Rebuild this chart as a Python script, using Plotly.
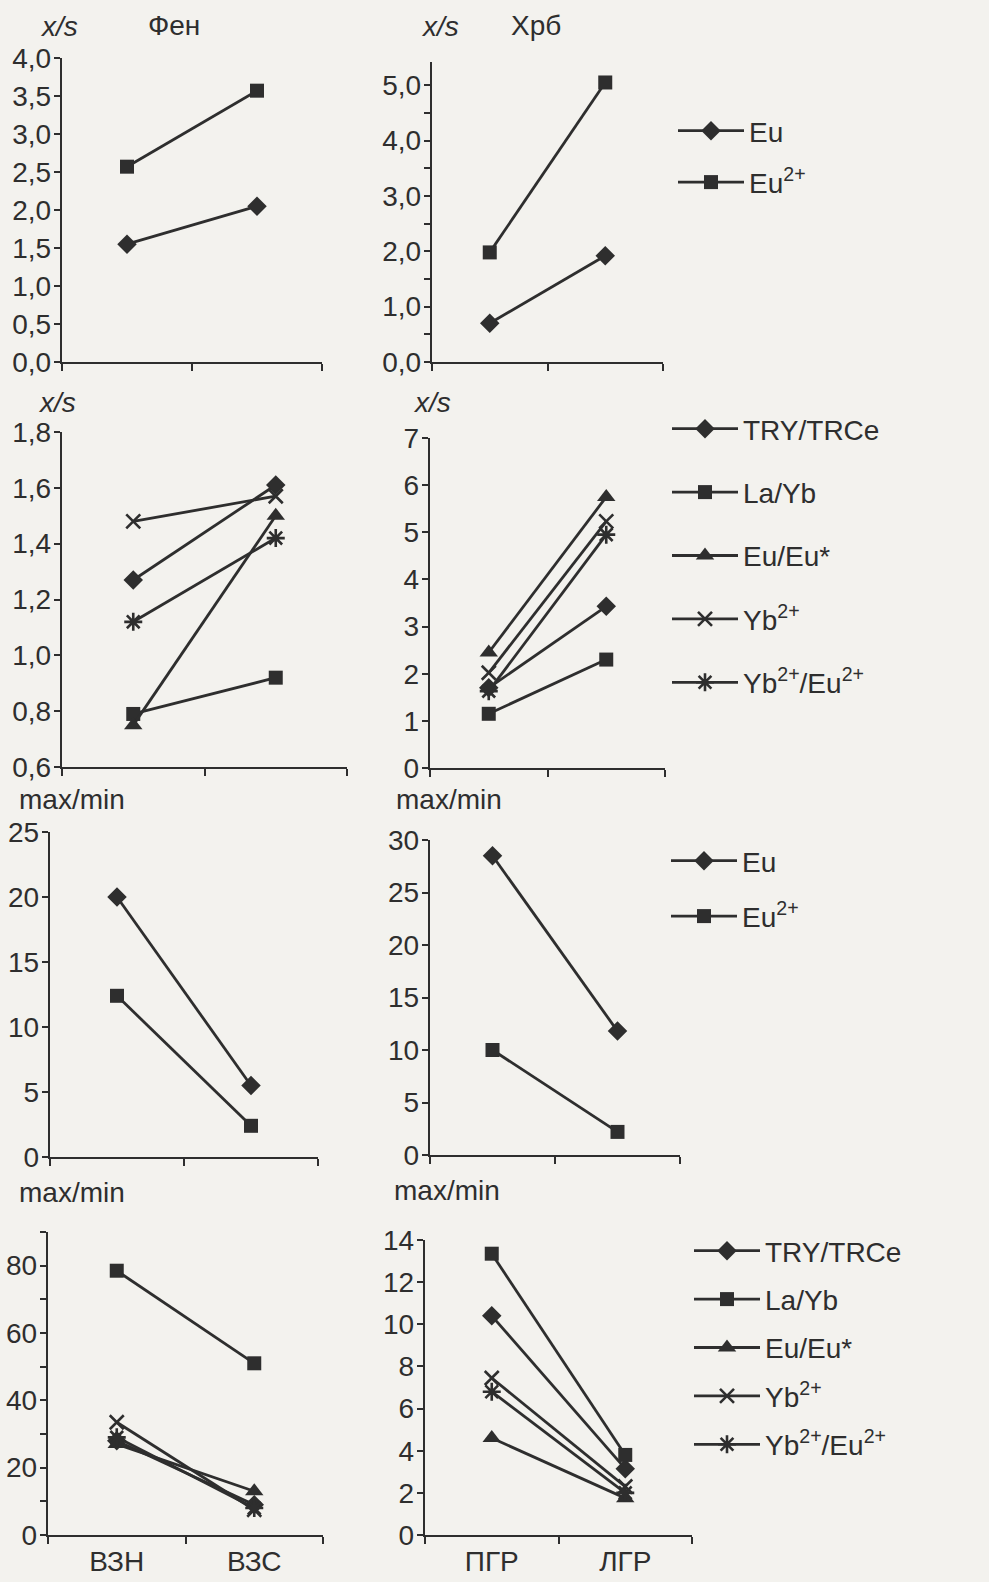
import plotly.graph_objects as go

W, H = 989, 1582
INK = "#2e2e2e"
BG = "#f3f2ee"
FONT = "Liberation Sans, Arial, sans-serif"

# ---------------- data ----------------
cats_left = ["ВЗН", "ВЗС"]
cats_right = ["ПГР", "ЛГР"]

names_eu = ["Eu", "Eu<sup>2+</sup>"]
names_ratio = ["TRY/TRCe", "La/Yb", "Eu/Eu*", "Yb<sup>2+</sup>", "Yb<sup>2+</sup>/Eu<sup>2+</sup>"]

# x/s, Фен
fen_xs_eu = [1.55, 2.05]
fen_xs_eu2 = [2.57, 3.57]
# x/s, Хрб
hrb_xs_eu = [0.70, 1.92]
hrb_xs_eu2 = [1.98, 5.05]

# x/s ratios, left column
fen_xs_try = [1.27, 1.61]
fen_xs_layb = [0.79, 0.92]
fen_xs_eueu = [0.75, 1.50]
fen_xs_yb2 = [1.48, 1.57]
fen_xs_yb2eu2 = [1.12, 1.42]
# x/s ratios, right column
hrb_xs_try = [1.70, 3.43]
hrb_xs_layb = [1.15, 2.30]
hrb_xs_eueu = [2.45, 5.75]
hrb_xs_yb2 = [2.02, 5.23]
hrb_xs_yb2eu2 = [1.63, 4.95]

# max/min Eu
fen_mm_eu = [20.0, 5.5]
fen_mm_eu2 = [12.4, 2.4]
hrb_mm_eu = [28.5, 11.8]
hrb_mm_eu2 = [10.0, 2.2]

# max/min ratios
fen_mm_try = [28.0, 9.0]
fen_mm_layb = [78.5, 51.0]
fen_mm_eueu = [27.0, 13.0]
fen_mm_yb2 = [33.5, 7.5]
fen_mm_yb2eu2 = [29.0, 8.0]

hrb_mm_try = [10.4, 3.15]
hrb_mm_layb = [13.35, 3.8]
hrb_mm_eueu = [4.6, 1.75]
hrb_mm_yb2 = [7.45, 2.3]
hrb_mm_yb2eu2 = [6.8, 2.0]

# ---------------- styling ----------------
SYM = ["diamond", "square", "triangle-up", "x-thin-open", "asterisk-open"]
MSIZE = [15, 14, 16, 14, 15]

fig = go.Figure()

# panel pixel boxes: (x0, x1, ytop, ybottom)
boxes = {
    1: (62, 322, 58, 362),
    2: (432, 663, 62, 362),
    3: (62, 347, 432, 767),
    4: (430, 665, 438, 768),
    5: (50, 318, 832, 1157),
    6: (430, 680, 840, 1155),
    7: (48, 323, 1232, 1535),
    8: (425, 692, 1240, 1535),
}

yspec = {
    1: dict(range=[0, 4.0], dtick=0.5, tickformat=".1f"),
    2: dict(range=[0, 5.42], dtick=1, tickformat=".1f", minor=0.5),
    3: dict(range=[0.6, 1.8], dtick=0.2, tickformat=".1f"),
    4: dict(range=[0, 7], dtick=1, tickformat="d"),
    5: dict(range=[0, 25], dtick=5, tickformat="d"),
    6: dict(range=[0, 30], dtick=5, tickformat="d"),
    7: dict(range=[0, 90], dtick=20, tickformat="d", minor=10),
    8: dict(range=[0, 14], dtick=2, tickformat="d"),
}

panel_series = {
    1: (cats_left, names_eu, [fen_xs_eu, fen_xs_eu2], None),
    2: (cats_right, names_eu, [hrb_xs_eu, hrb_xs_eu2], "legend"),
    3: (cats_left, names_ratio, [fen_xs_try, fen_xs_layb, fen_xs_eueu, fen_xs_yb2, fen_xs_yb2eu2], None),
    4: (cats_right, names_ratio, [hrb_xs_try, hrb_xs_layb, hrb_xs_eueu, hrb_xs_yb2, hrb_xs_yb2eu2], "legend2"),
    5: (cats_left, names_eu, [fen_mm_eu, fen_mm_eu2], None),
    6: (cats_right, names_eu, [hrb_mm_eu, hrb_mm_eu2], "legend3"),
    7: (cats_left, names_ratio, [fen_mm_try, fen_mm_layb, fen_mm_eueu, fen_mm_yb2, fen_mm_yb2eu2], None),
    8: (cats_right, names_ratio, [hrb_mm_try, hrb_mm_layb, hrb_mm_eueu, hrb_mm_yb2, hrb_mm_yb2eu2], "legend4"),
}

layout_axes = {}
for n, (x0, x1, yt, yb) in boxes.items():
    sfx = "" if n == 1 else str(n)
    cats, names, series, leg = panel_series[n]
    for i, (nm, vals) in enumerate(zip(names, series)):
        sym = SYM[i]
        open_sym = sym.endswith("open")
        fig.add_trace(go.Scatter(
            x=cats, y=vals, name=nm, mode="lines+markers",
            xaxis="x" + sfx, yaxis="y" + sfx,
            line=dict(color=INK, width=2.8),
            marker=dict(symbol=sym, size=MSIZE[i], color=INK,
                        line=dict(color=INK, width=2.6 if open_sym else 0)),
            showlegend=leg is not None,
            legend=leg if leg else "legend",
            legendgroup=f"{n}_{i}",
            cliponaxis=False,
        ))
    bottom = n in (7, 8)
    layout_axes["xaxis" + sfx] = dict(
        domain=[x0 / W, x1 / W], anchor="y" + sfx,
        type="category", categoryorder="array", categoryarray=cats,
        range=[-0.5, 1.5], tickson="boundaries",
        showline=True, linecolor=INK, linewidth=2.4,
        ticks="outside", ticklen=7, tickwidth=2.2, tickcolor=INK,
        showgrid=False, zeroline=False, automargin=False,
        showticklabels=bottom,
        tickfont=dict(family=FONT, size=28, color=INK),
        fixedrange=True,
    )
    ys = yspec[n]
    yax = dict(
        domain=[1 - yb / H, 1 - yt / H], anchor="x" + sfx,
        range=ys["range"], dtick=ys["dtick"], tick0=0, tickformat=ys["tickformat"],
        showline=True, linecolor=INK, linewidth=2.4,
        ticks="outside", ticklen=6, tickwidth=2.2, tickcolor=INK,
        showgrid=False, zeroline=False, automargin=False,
        tickfont=dict(family=FONT, size=28, color=INK),
        ticklabelstandoff=-3,
        fixedrange=True,
    )
    if "minor" in ys:
        yax["minor"] = dict(dtick=ys["minor"], tick0=0, ticks="outside", ticklen=6,
                            tickwidth=2.2, tickcolor=INK, showgrid=False)
    layout_axes["yaxis" + sfx] = yax

# legends
def legend_spec(xpix, ypix, gap):
    return dict(
        x=xpix / W, y=1 - ypix / H, xanchor="left", yanchor="top",
        bgcolor="rgba(0,0,0,0)", borderwidth=0,
        font=dict(family=FONT, size=28, color=INK),
        itemwidth=66, tracegroupgap=gap, traceorder="grouped",
    )

annotations = []
def title(text, xpix, ypix, italic=False):
    annotations.append(dict(
        text=f"<i>{text}</i>" if italic else text,
        x=xpix / W, y=1 - ypix / H, xref="paper", yref="paper",
        xanchor="left", yanchor="middle", showarrow=False,
        font=dict(family=FONT, size=28, color=INK),
    ))

title("x/s", 38, 27, italic=True)
title("Фен", 146, 25)
title("x/s", 419, 27, italic=True)
title("Хрб", 509, 25)
title("x/s", 36, 402, italic=True)
title("x/s", 411, 403, italic=True)
title("max/min", 17, 800)
title("max/min", 394, 800)
title("max/min", 17, 1192)
title("max/min", 392, 1190)

fig.update_layout(
    width=W, height=H,
    margin=dict(l=0, r=0, t=0, b=0, autoexpand=False),
    paper_bgcolor=BG, plot_bgcolor="rgba(0,0,0,0)",
    separators=", ",
    font=dict(family=FONT, size=28, color=INK),
    legend=legend_spec(673, 106, 12),
    legend2=legend_spec(667, 404, 24),
    legend3=legend_spec(666, 836, 16),
    legend4=legend_spec(689, 1226, 9),
    annotations=annotations,
    **layout_axes,
)

fig.write_html("out.html")
